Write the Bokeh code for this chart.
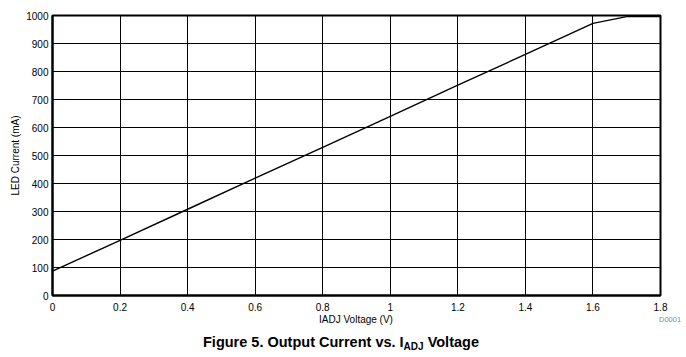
from bokeh.plotting import figure
from bokeh.models import Range1d, FixedTicker, CustomJSTickFormatter, Div
from bokeh.layouts import column
from bokeh.embed import file_html
from bokeh.resources import INLINE

# data
voltage = [0.0, 0.2, 0.4, 0.6, 0.8, 1.0, 1.2, 1.4, 1.6, 1.7, 1.8]
current = [87, 197, 308, 419, 529, 640, 751, 861, 972, 996, 996]
x_ticks = [0, 0.2, 0.4, 0.6, 0.8, 1, 1.2, 1.4, 1.6, 1.8]
y_ticks = [0, 100, 200, 300, 400, 500, 600, 700, 800, 900, 1000]
x_label = "IADJ Voltage (V)"
y_label = "LED Current (mA)"
caption_main = "Figure 5. Output Current vs. I"
caption_sub = "ADJ"
caption_end = " Voltage"
code_tag = "D0001"

FONT = "Liberation Sans"

p = figure(width=686, height=314, output_backend="svg", toolbar_location=None,
           x_range=Range1d(0, 1.8), y_range=Range1d(0, 1000),
           min_border_left=52, min_border_right=26, min_border_top=15, min_border_bottom=19)
p.background_fill_color = "white"
p.border_fill_color = "white"
p.outline_line_color = "black"
p.outline_line_width = 2

p.line(voltage, current, line_color="black", line_width=1.4)

for ax in (p.xaxis[0], p.yaxis[0]):
    ax.axis_line_color = "black"
    ax.axis_line_width = 2
    ax.major_tick_out = 0
    ax.major_tick_in = 0
    ax.minor_tick_out = 0
    ax.minor_tick_in = 0
    ax.major_label_text_font = FONT
    ax.major_label_text_font_size = "10px"
    ax.major_label_text_color = "black"
    ax.axis_label_text_font = FONT
    ax.axis_label_text_font_size = "10px"
    ax.axis_label_text_font_style = "normal"
    ax.axis_label_text_color = "black"

p.xaxis.ticker = FixedTicker(ticks=x_ticks)
p.yaxis.ticker = FixedTicker(ticks=y_ticks)
p.xaxis.formatter = CustomJSTickFormatter(code="return String(Math.round(tick*10)/10)")
p.xaxis.major_label_standoff = 7
p.yaxis.major_label_standoff = 4
p.yaxis.axis_label = y_label
p.yaxis.axis_label_standoff = 2

for g in (p.xgrid[0], p.ygrid[0]):
    g.grid_line_color = "black"
    g.grid_line_width = 1
    g.grid_line_alpha = 1.0

html = f"""
<div style="position:relative;width:686px;height:43px;font-family:'Liberation Sans',Arial,sans-serif;color:black;">
  <div style="position:absolute;left:256px;width:200px;top:1px;text-align:center;font-size:10px;line-height:10px;white-space:nowrap;">{x_label}</div>
  <div style="position:absolute;left:659px;top:2px;font-size:7.5px;line-height:7px;color:#8a8a8a;white-space:nowrap;">{code_tag}</div>
  <div style="position:absolute;left:203px;top:21px;font-size:14.5px;line-height:14px;font-weight:bold;white-space:nowrap;">{caption_main}<span style="font-size:10px;vertical-align:-3px;">{caption_sub}</span>{caption_end}</div>
</div>
"""
div = Div(text=html, width=686, height=43, margin=(0, 0, 0, 0))

layout = column(p, div, spacing=0)
open("out.html", "w").write(file_html(layout, INLINE))
